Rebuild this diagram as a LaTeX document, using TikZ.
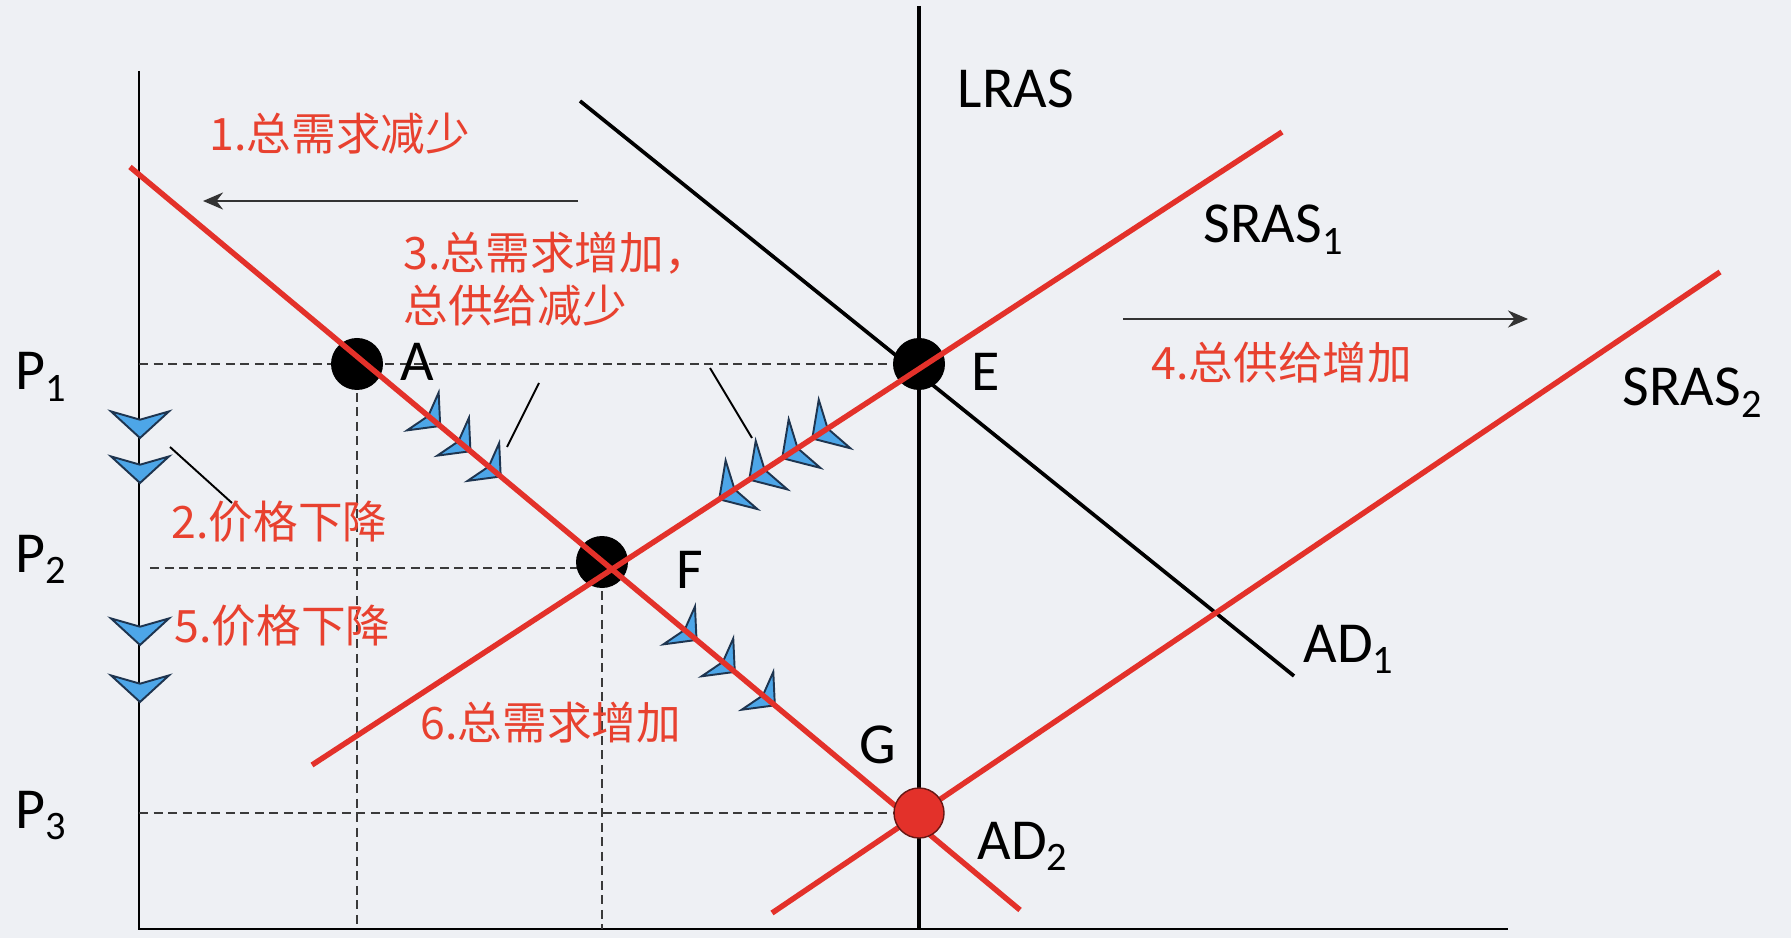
\documentclass[tikz,border=0pt]{standalone}
\usepackage{fontspec}
\setmainfont{Carlito}
\newfontfamily\cjk{Noto Sans CJK SC}
\usetikzlibrary{arrows.meta,calc}
\definecolor{ASRed}{HTML}{E3312A}
\definecolor{ASText}{HTML}{E8412F}
\definecolor{ASBlue}{HTML}{4DA6E8}
\definecolor{ASEdge}{HTML}{1E3550}
\definecolor{ASBack}{HTML}{EEF0F4}
\definecolor{ASArrow}{HTML}{333333}
\definecolor{ASDash}{HTML}{3A3A3A}
\newcommand\lsub[1]{\raisebox{-3.4pt}{\fontsize{11.5pt}{11.5pt}\selectfont #1}}
\tikzset{
  curvelabel/.style={font=\fontsize{16.5pt}{16.5pt}\selectfont,anchor=base west,inner sep=0pt},
  steplabel/.style={font=\cjk\fontsize{12.7pt}{15.25pt}\selectfont,text=ASText,anchor=west,inner sep=0pt,align=left},
  eqdot/.style={circle,fill=black,inner sep=0pt,minimum size=0.52cm},
  redline/.style={ASRed,line width=1.55pt},
  guide/.style={ASDash,dash pattern=on 0.09cm off 0.055cm,line width=0.7pt},
  leader/.style={black,line width=0.55pt},
  shift arrow/.style={ASArrow,line width=0.75pt,-{Stealth[length=0.2cm,width=0.17cm]}},
  chev/.pic={\draw[fill=ASBlue,draw=ASEdge,line width=0.55pt,line join=miter] (0,-0.13) -- (-0.29,0.136) -- (0,0.053) -- (0.29,0.136) -- cycle;}
}
\begin{document}
\begin{tikzpicture}[x=1cm,y=1cm]
\path[use as bounding box,fill=ASBack] (0,0) rectangle (17.91,9.38);
% axes
\coordinate (O) at (1.39,0.09);
\draw[line width=0.7pt] (1.39,8.67) -- (O) -- (15.08,0.09);
% equilibrium points
\coordinate (A) at (3.57,5.74);
\coordinate (E) at (9.19,5.74);
\coordinate (F) at (6.02,3.76);
\coordinate (G) at (9.19,1.25);
% curve end points
\coordinate (ad1s) at (5.80,8.37);
\coordinate (ad1e) at (12.94,2.62);
\coordinate (ad2s) at (1.30,7.71);
\coordinate (ad2e) at (10.20,0.28);
\coordinate (sras1s) at (3.12,1.73);
\coordinate (sras1e) at (12.82,8.06);
\coordinate (sras2s) at (7.72,0.25);
\coordinate (sras2e) at (17.20,6.66);
\coordinate (lrasTop) at (9.19,9.32);
% price guides
\coordinate (p2dash) at (1.50,3.70);
\draw[guide] (O |- A) -- (E);
\draw[guide] (p2dash) -- (p2dash -| F);
\draw[guide] (O |- G) -- (G);
\draw[guide] (A) -- (A |- O);
\draw[guide] (F) -- (F |- O);
% LRAS and AD1
\draw[line width=1.4pt] (lrasTop) -- (lrasTop |- O);
\draw[line width=1.05pt] (ad1s) -- (ad1e);
\node[eqdot] (dotA) at (A) {};
\node[eqdot] (dotE) at (E) {};
\node[eqdot] (dotF) at (F) {};
% movement chevrons
\foreach \y in {5.13,4.68,3.06,2.49}
  \pic at (1.40,\y) {chev};
\foreach \t in {0.339,0.373,0.407,0.627,0.670,0.715}
  \pic[rotate=50.1,scale=0.85] at ($(ad2s)!\t!(ad2e)$) {chev};
\foreach \t in {0.431,0.462,0.496,0.527}
  \pic[rotate=-56.9] at ($(sras1s)!\t!(sras1e)$) {chev};
% AD2, SRAS1, SRAS2
\draw[redline] (ad2s) -- (ad2e);
\draw[redline] (sras1s) -- (sras1e);
\draw[redline] (sras2s) -- (sras2e);
\node[eqdot,fill=ASRed,draw=black!55!ASRed,line width=0.4pt,minimum size=0.5cm] (dotG) at (G) {};
% leaders
\coordinate (lead1a) at (1.70,4.91);
\coordinate (lead1b) at (2.32,4.35);
\coordinate (lead2a) at (5.07,4.91);
\coordinate (lead2b) at (5.39,5.55);
\coordinate (lead3a) at (7.10,5.70);
\coordinate (lead3b) at (7.52,5.00);
\draw[leader] (lead1a) -- (lead1b);
\draw[leader] (lead2a) -- (lead2b);
\draw[leader] (lead3a) -- (lead3b);
% shift arrows
\coordinate (shiftLs) at (5.78,7.37);
\coordinate (shiftLe) at (2.03,7.37);
\coordinate (shiftRs) at (11.23,6.19);
\coordinate (shiftRe) at (15.28,6.19);
\draw[shift arrow] (shiftLs) -- (shiftLe);
\draw[shift arrow] (shiftRs) -- (shiftRe);
% curve and point labels
\node[curvelabel] (lras) at (9.57,8.30) {LRAS};
\node[curvelabel] (sras1) at (12.03,6.95) {SRAS\lsub{1}};
\node[curvelabel] (sras2) at (16.22,5.32) {SRAS\lsub{2}};
\node[curvelabel] (ad1) at (13.03,2.76) {AD\lsub{1}};
\node[curvelabel] (ad2) at (9.77,0.79) {AD\lsub{2}};
\node[curvelabel] (labA) at (4.00,5.57) {A};
\node[curvelabel] (labE) at (9.71,5.47) {E};
\node[curvelabel] (labF) at (6.76,3.50) {F};
\node[curvelabel] (labG) at (8.59,1.75) {G};
\node[curvelabel] (p1) at (0.15,5.48) {P\lsub{1}};
\node[curvelabel] (p2) at (0.15,3.66) {P\lsub{2}};
\node[curvelabel] (p3) at (0.15,1.10) {P\lsub{3}};
% steps
\node[steplabel] (s1) at (2.09,8.04) {1.总需求减少};
\node[steplabel] (s2) at (1.71,4.16) {2.价格下降};
\node[steplabel] (s3) at (4.03,6.59) {3.总需求增加，\\总供给减少};
\node[steplabel] (s4) at (11.51,5.75) {4.总供给增加};
\node[steplabel] (s5) at (1.74,3.12) {5.价格下降};
\node[steplabel] (s6) at (4.20,2.15) {6.总需求增加};
\end{tikzpicture}
\end{document}
